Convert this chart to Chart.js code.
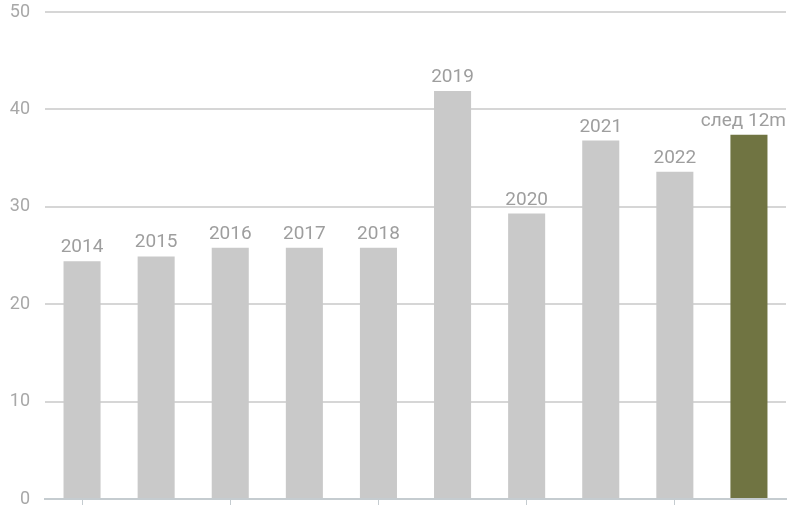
<!DOCTYPE html>
<html lang="ru">
<head>
    <meta charset="UTF-8">
    <title>Bar chart</title>
    <script src="https://cdn.jsdelivr.net/npm/chart.js@4.4.3/dist/chart.umd.min.js"></script>
    <style>
        html, body { margin: 0; padding: 0; background: #ffffff; }
        #wrap { width: 800px; height: 520px; position: relative; }
    </style>
</head>
<body>
<div id="wrap"><canvas id="chart"></canvas></div>
<script>
    // Data
    const categories = ['2014', '2015', '2016', '2017', '2018', '2019', '2020', '2021', '2022', 'след 12m'];
    const values = [24.4, 24.9, 25.8, 25.8, 25.8, 41.9, 29.3, 36.8, 33.6, 37.4];
    const yTicks = [0, 10, 20, 30, 40, 50];

    const barColors = categories.map((c, i) => i === categories.length - 1 ? '#707442' : '#c9c9c9');

    // Draws the category name above every bar, using the bar elements' positions
    // (kept inside the plot area, so the long last label is pushed left)
    const topLabels = {
        id: 'topLabels',
        afterDatasetsDraw(chart) {
            const ctx = chart.ctx;
            const meta = chart.getDatasetMeta(0);
            const right = chart.chartArea.right;
            ctx.save();
            ctx.font = '19px Roboto';
            ctx.fillStyle = '#9e9e9e';
            ctx.textAlign = 'center';
            ctx.textBaseline = 'alphabetic';
            meta.data.forEach((bar, i) => {
                const half = ctx.measureText(categories[i]).width / 2;
                const x = Math.min(bar.x, right - half);
                ctx.fillText(categories[i], x, bar.y - 9);
            });
            ctx.restore();
        }
    };

    new Chart(document.getElementById('chart'), {
        type: 'bar',
        data: {
            labels: categories,
            datasets: [{
                data: values,
                backgroundColor: barColors,
                borderWidth: 0,
                categoryPercentage: 1,
                barPercentage: 0.5
            }]
        },
        options: {
            responsive: true,
            maintainAspectRatio: false,
            animation: false,
            layout: { padding: { top: 12, right: 14, bottom: 15, left: 0 } },
            plugins: {
                legend: { display: false },
                tooltip: { enabled: false }
            },
            scales: {
                x: {
                    grid: {
                        offset: false,
                        drawOnChartArea: false,
                        drawTicks: true,
                        tickLength: 6,
                        tickColor: (c) => c.index % 2 === 0 ? '#c5ccd0' : 'rgba(0,0,0,0)'
                    },
                    border: { color: '#c5ccd0', width: 2 },
                    ticks: { display: false, autoSkip: false }
                },
                y: {
                    min: 0,
                    max: 50,
                    afterBuildTicks: (axis) => { axis.ticks = yTicks.map(v => ({ value: v })); },
                    afterFit: (axis) => {
                        axis.width = 45;
                        axis.paddingTop = 0;
                        axis.paddingBottom = 0;
                    },
                    grid: { color: '#d6d6d6', lineWidth: 2, drawTicks: false },
                    border: { display: false },
                    ticks: {
                        color: '#a8a8a8',
                        padding: 15,
                        font: { family: 'Roboto', size: 18 }
                    }
                }
            }
        },
        plugins: [topLabels]
    });
</script>
</body>
</html>
